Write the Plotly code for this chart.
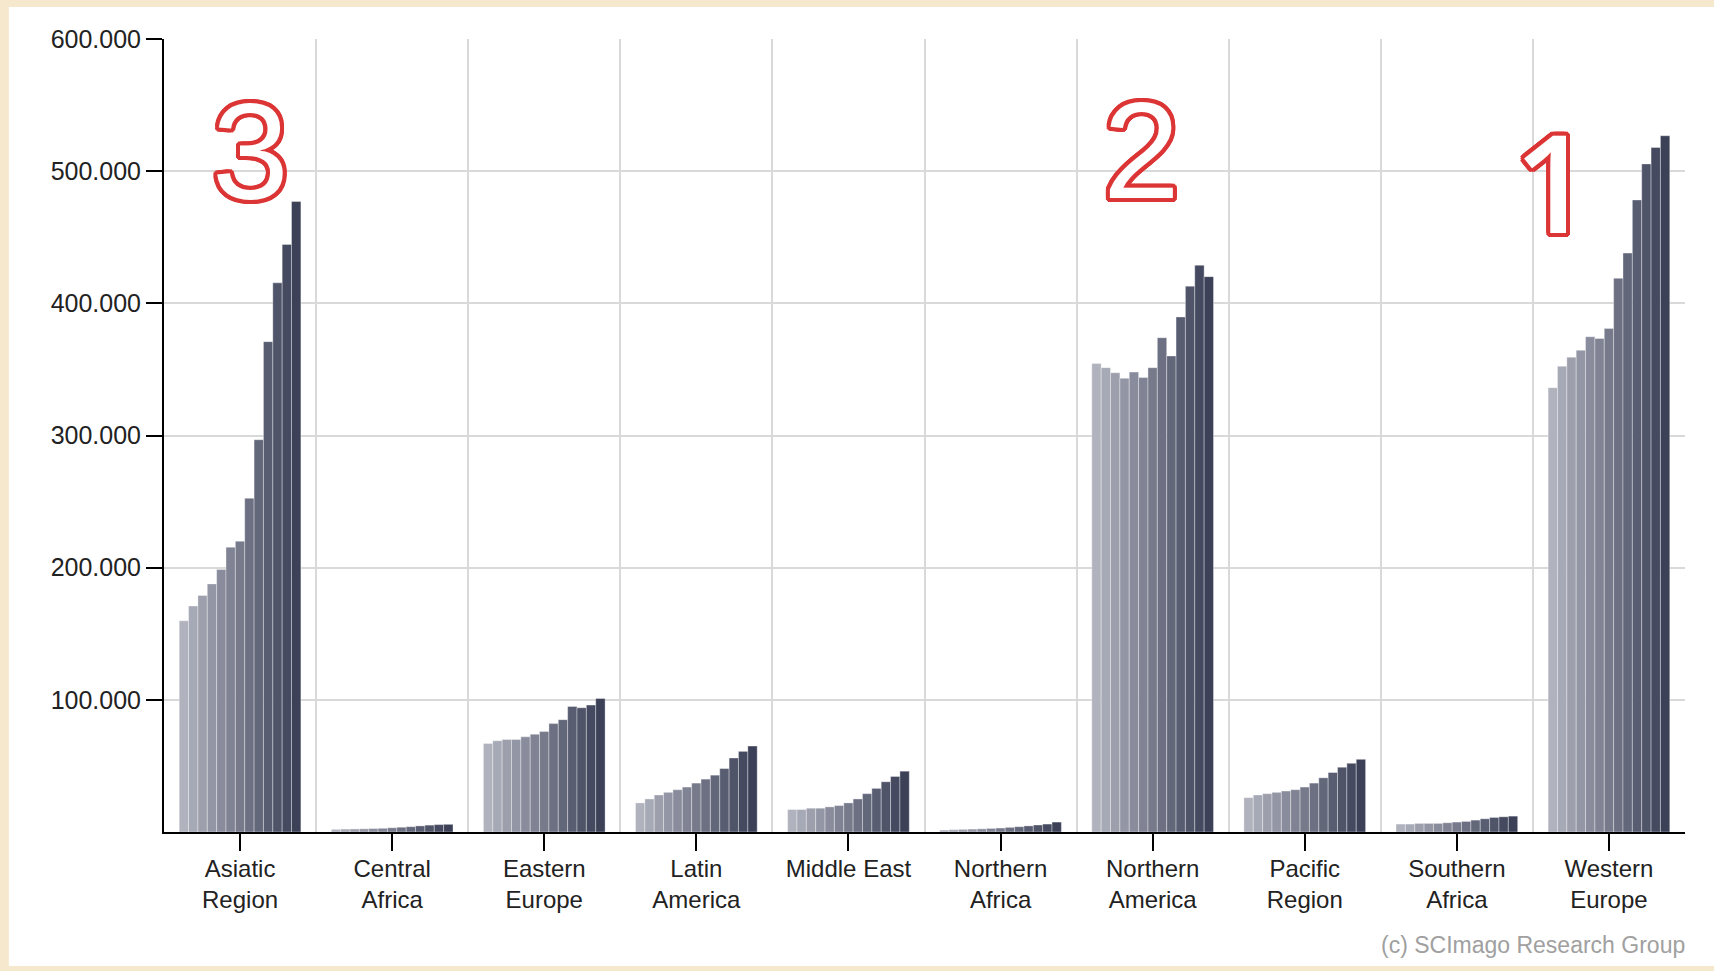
import plotly.graph_objects as go

years = [str(y) for y in range(1996, 2009)]
regions = ["Asiatic Region", "Central Africa", "Eastern Europe", "Latin America", "Middle East",
           "Northern Africa", "Northern America", "Pacific Region", "Southern Africa", "Western Europe"]
region_labels = ["Asiatic<br>Region", "Central<br>Africa", "Eastern<br>Europe", "Latin<br>America", "Middle East",
                 "Northern<br>Africa", "Northern<br>America", "Pacific<br>Region", "Southern<br>Africa", "Western<br>Europe"]

asiatic_region = [159800, 171000, 179000, 187700, 198700, 215500, 220000, 252500, 296800, 371000, 415500, 444600, 477000]
central_africa = [2000, 2200, 2300, 2400, 2600, 2800, 3200, 3600, 4000, 4600, 5200, 5600, 5800]
eastern_europe = [67000, 69000, 70000, 70000, 72000, 74000, 76000, 82000, 85000, 95000, 94000, 96000, 101000]
latin_america = [22000, 25000, 28000, 30000, 32000, 34000, 37000, 40000, 43000, 48000, 56000, 61000, 65000]
middle_east = [17000, 17000, 18000, 18000, 19000, 20000, 22000, 25000, 29000, 33000, 38000, 42000, 46000]
northern_africa = [1500, 1800, 2000, 2200, 2400, 2700, 3000, 3500, 4000, 4600, 5300, 6000, 7500]
northern_america = [354400, 351300, 347500, 343300, 348000, 343800, 351300, 374000, 360200, 389700, 413000, 428800, 420200]
pacific_region = [26000, 28000, 29000, 30000, 31000, 32000, 34000, 37000, 41000, 45000, 49000, 52000, 55000]
southern_africa = [6000, 6000, 6500, 6500, 6500, 7000, 7500, 8000, 9000, 10000, 11000, 11500, 12000]
western_europe = [336200, 352400, 359300, 364500, 374700, 373400, 380900, 418900, 438000, 478200, 505500, 517900, 526800]

series = [asiatic_region, central_africa, eastern_europe, latin_america, middle_east,
          northern_africa, northern_america, pacific_region, southern_africa, western_europe]

y_tickvals = [100000, 200000, 300000, 400000, 500000, 600000]
grid_boundaries = [0.5, 1.5, 2.5, 3.5, 4.5, 5.5, 6.5, 7.5, 8.5, 9.5]

rank_regions = ["Western Europe", "Northern America", "Asiatic Region"]
rank_labels = ["1", "2", "3"]
rank_heights = [493000, 516000, 515000]
rank_shift = [-56, -11, 10]
rank_fonts = ["Open Sans", "Liberation Sans", "Liberation Sans"]
rank_sizes = [136, 138, 138]
rank_weights = [600, 400, 400]

c0 = (176, 178, 190)
c1 = (60, 65, 88)
n = len(years)

fig = go.Figure()
for i, yr in enumerate(years):
    t = i / (n - 1)
    col = "rgb(%d,%d,%d)" % tuple(round(a + (b - a) * t) for a, b in zip(c0, c1))
    fig.add_trace(go.Bar(
        x=regions, y=[s[i] for s in series], name=yr,
        marker=dict(color=col, line=dict(color="rgba(255,255,255,0.35)", width=1)),
        showlegend=False,
    ))

fig.add_trace(go.Scatter(x=[], y=[], xaxis="x2", yaxis="y", showlegend=False))

outline = "#dc3535"
offs = [(4, 0), (-4, 0), (0, 4), (0, -4), (3, 3), (-3, -3), (3, -3), (-3, 3),
        (2, 0), (-2, 0), (0, 2), (0, -2), (4, 2), (-4, 2), (4, -2), (-4, -2), (2, 4), (-2, 4), (2, -4), (-2, -4)]
sh = ", ".join("%dpx %dpx 0 %s" % (dx, dy, outline) for dx, dy in offs)

for reg, lab, h, s, fam, sz, wt in zip(rank_regions, rank_labels, rank_heights, rank_shift,
                                        rank_fonts, rank_sizes, rank_weights):
    fig.add_annotation(x=reg, y=h, xref="x", yref="y", text=lab, showarrow=False, xshift=s,
                       font=dict(family=fam, size=sz, color="white", shadow=sh, weight=wt))

fig.add_annotation(x=1.0015, y=-0.1425, xref="paper", yref="paper", xanchor="right", yanchor="middle",
                   text="(c) SCImago Research Group", showarrow=False,
                   font=dict(family="Liberation Sans, Arial", size=23, color="#a0a0a0"))

fig.add_shape(type="rect", xref="paper", yref="paper", x0=-0.102, x1=1.03, y0=-0.169, y1=1.0404,
              fillcolor="white", line=dict(width=0), layer="below")

fig.update_layout(
    width=1714, height=971,
    margin=dict(l=164, r=29, t=39, b=139),
    paper_bgcolor="#f6e8cc",
    plot_bgcolor="white",
    barmode="group", bargap=0.2, bargroupgap=0,
    separators=",.",
    font=dict(family="Liberation Sans, Arial", color="#222222"),
    xaxis=dict(type="category", categoryarray=regions, range=[-0.5, 9.5],
               tickvals=regions, ticktext=region_labels,
               showline=True, linecolor="black", linewidth=2,
               ticks="outside", ticklen=17, tickwidth=2, tickcolor="black",
               ticklabelstandoff=-3,
               showgrid=False, tickfont=dict(size=24, color="#222222")),
    xaxis2=dict(overlaying="x", anchor="y", range=[-0.5, 9.5], type="linear",
                tickvals=grid_boundaries, showticklabels=False, ticks="",
                showgrid=True, gridcolor="#d9d9d9", gridwidth=2, zeroline=False, showline=False),
    yaxis=dict(range=[0, 600000], tickvals=y_tickvals, tickformat=",d",
               showline=True, linecolor="black", linewidth=2,
               ticks="outside", ticklen=16, tickwidth=2, tickcolor="black",
               showgrid=True, gridcolor="#d9d9d9", gridwidth=2, zeroline=False,
               tickfont=dict(size=25, color="#222222")),
)

fig.write_html("out.html", config={"displayModeBar": False},
               post_script="document.body.style.margin='0';document.body.style.background='#f6e8cc';window.dispatchEvent(new Event('resize'));")
